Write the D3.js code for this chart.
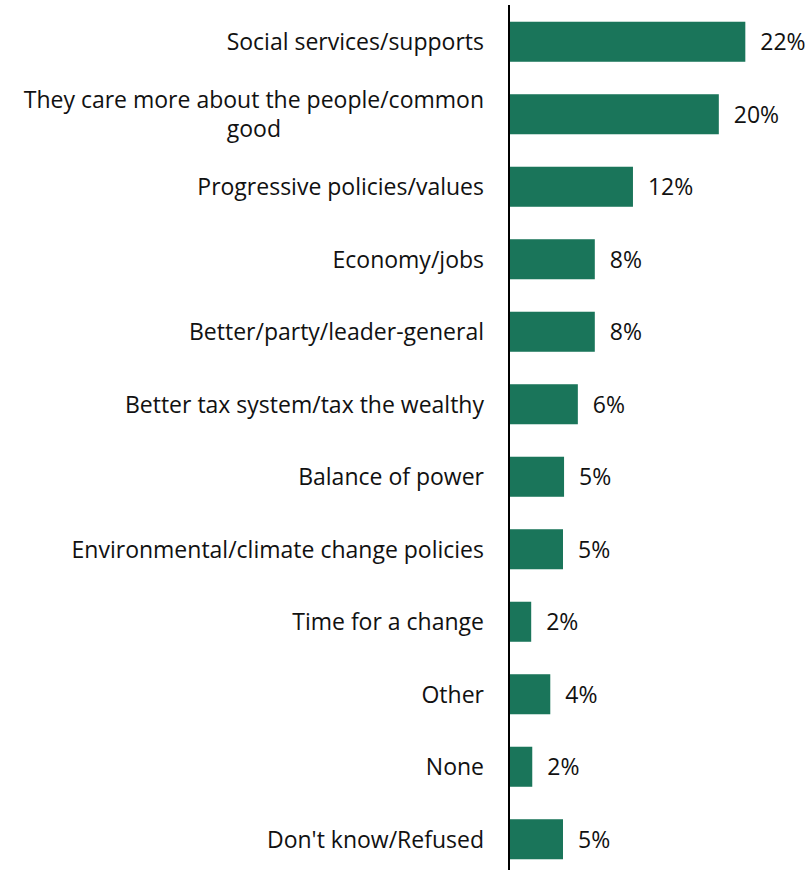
<!DOCTYPE html>
<html>
<head>
<meta charset="utf-8">
<script src="https://cdn.jsdelivr.net/npm/d3@7/dist/d3.min.js"></script>
<style>
  html, body { margin: 0; padding: 0; background: #ffffff; }
  svg { display: block; }
</style>
</head>
<body>
<div id="chart"></div>
<script>
const categories = [
  "Social services/supports",
  "They care more about the people/common good",
  "Progressive policies/values",
  "Economy/jobs",
  "Better/party/leader-general",
  "Better tax system/tax the wealthy",
  "Balance of power",
  "Environmental/climate change policies",
  "Time for a change",
  "Other",
  "None",
  "Don't know/Refused"
];
const values = [22.2, 19.7, 11.6, 8.0, 8.0, 6.4, 5.1, 5.0, 2.0, 3.8, 2.1, 5.0];

const W = 809, H = 870;
const FONT = "'Open Sans', Lato, sans-serif";
const FS = 23;
const axisX = 509;
const barColor = "#1a755a";

const svg = d3.select("#chart").append("svg").attr("width", W).attr("height", H);

const y = d3.scaleBand().domain(categories).range([5.5, 875.5]).paddingInner(0.448).paddingOuter(0.224);
const x = d3.scaleLinear().domain([0, 25]).range([axisX + 1, axisX + 1 + 265]);

const data = categories.map((c, i) => ({ c, v: values[i] }));

svg.append("g").selectAll("rect").data(data).join("rect")
  .attr("x", x(0))
  .attr("y", d => y(d.c))
  .attr("width", d => x(d.v) - x(0))
  .attr("height", y.bandwidth())
  .attr("fill", barColor);

svg.append("g").selectAll("text").data(data).join("text")
  .attr("x", d => x(d.v) + 15)
  .attr("y", d => y(d.c) + y.bandwidth() / 2)
  .attr("dy", "0.36em")
  .attr("font-family", FONT)
  .attr("font-size", FS)
  .attr("fill", "#111")
  .text(d => d3.format(".0f")(d.v) + "%");

// category labels with wrapping
const labelRight = 484;
const maxW = 475;
const lineH = 29;
const lg = svg.append("g").attr("font-family", FONT).attr("font-size", FS).attr("fill", "#111");
const measure = lg.append("text").attr("visibility", "hidden");
function tw(s) { measure.text(s); return measure.node().getComputedTextLength(); }
data.forEach(d => {
  const words = d.c.split(" ");
  const lines = [];
  let cur = "";
  words.forEach(w => {
    const t = cur ? cur + " " + w : w;
    if (tw(t) > maxW && cur) { lines.push(cur); cur = w; } else cur = t;
  });
  lines.push(cur);
  const widths = lines.map(tw);
  const mw = d3.max(widths);
  const cy = y(d.c) + y.bandwidth() / 2;
  const t = lg.append("text")
    .attr("text-anchor", lines.length > 1 ? "middle" : "end")
    .attr("x", lines.length > 1 ? labelRight - mw / 2 : labelRight);
  lines.forEach((ln, i) => {
    t.append("tspan")
      .attr("x", lines.length > 1 ? labelRight - mw / 2 : labelRight)
      .attr("y", cy + (i - (lines.length - 1) / 2) * lineH)
      .attr("dy", "0.36em")
      .text(ln);
  });
});
measure.remove();

svg.append("line")
  .attr("x1", axisX).attr("x2", axisX)
  .attr("y1", 5).attr("y2", H)
  .attr("stroke", "#000").attr("stroke-width", 2);
</script>
</body>
</html>
